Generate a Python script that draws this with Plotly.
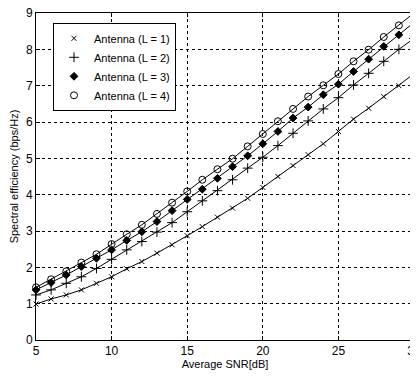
import plotly.graph_objects as go

snr = list(range(5, 31))
L1 = [0.99, 1.13, 1.24, 1.38, 1.56, 1.74, 1.96, 2.16, 2.39, 2.62, 2.87, 3.12, 3.38, 3.63, 3.90, 4.20, 4.50,
      4.80, 5.10, 5.40, 5.74, 6.08, 6.38, 6.70, 7.00, 7.33]
L2 = [1.24, 1.38, 1.56, 1.74, 1.97, 2.22, 2.48, 2.71, 2.97, 3.23, 3.53, 3.83, 4.11, 4.41, 4.73, 5.03, 5.35,
      5.69, 6.03, 6.36, 6.67, 7.02, 7.34, 7.67, 8.00, 8.30]
L3 = [1.38, 1.58, 1.79, 2.02, 2.25, 2.48, 2.74, 2.98, 3.26, 3.56, 3.87, 4.15, 4.45, 4.77, 5.07, 5.40, 5.74,
      6.11, 6.41, 6.75, 7.04, 7.39, 7.73, 8.08, 8.40, 8.74]
L4 = [1.45, 1.67, 1.89, 2.13, 2.36, 2.64, 2.91, 3.17, 3.47, 3.78, 4.09, 4.41, 4.70, 4.99, 5.33, 5.67, 6.02,
      6.36, 6.70, 7.01, 7.32, 7.67, 7.99, 8.34, 8.66, 9.00]
names = ["Antenna (L = 1)", "Antenna (L = 2)", "Antenna (L = 3)", "Antenna (L = 4)"]
symbols = ["x-thin-open", "cross-thin-open", "diamond", "circle-open"]
sizes = [5, 7, 6, 7]

fig = go.Figure()
# lines (no legend)
for ys in [L1, L2, L3, L4]:
    fig.add_trace(go.Scatter(x=snr, y=ys, mode="lines", showlegend=False,
                             line=dict(color="black", width=1), hoverinfo="skip", cliponaxis=False))
# markers (legend)
for ys, nm, sym, sz in zip([L1, L2, L3, L4], names, symbols, sizes):
    fig.add_trace(go.Scatter(
        x=snr, y=ys, name=nm, mode="markers", cliponaxis=False,
        marker=dict(symbol=sym, size=sz, color="black", line=dict(color="black", width=1)),
    ))

axis_common = dict(
    showline=True, linecolor="black", linewidth=1, mirror="ticks",
    ticks="inside", ticklen=4, tickcolor="black",
    showgrid=True, gridcolor="black", griddash="dot", gridwidth=1,
    zeroline=False, automargin=False, ticklabeloverflow="allow",
    tickfont=dict(family="Arial", size=12, color="black"),
)
fig.update_xaxes(range=[5, 30], dtick=5, tick0=5,
                 title=dict(text="Average SNR[dB]", font=dict(family="Arial", size=11, color="black"), standoff=2),
                 **axis_common)
fig.update_yaxes(range=[0, 9], dtick=1,
                 title=dict(text="Spectral efficiency (bps/Hz)", font=dict(family="Arial", size=11, color="black"), standoff=6),
                 **axis_common)

fig.update_layout(
    width=410, height=368,
    margin=dict(l=28, r=4, t=5, b=36),
    paper_bgcolor="white", plot_bgcolor="white",
    showlegend=True,
    legend=dict(x=0.045, y=0.97, xanchor="left", yanchor="top",
                bgcolor="white", bordercolor="black", borderwidth=1,
                font=dict(family="Arial", size=11, color="black"),
                itemwidth=30, tracegroupgap=0),
)
fig.write_html("out.html")
